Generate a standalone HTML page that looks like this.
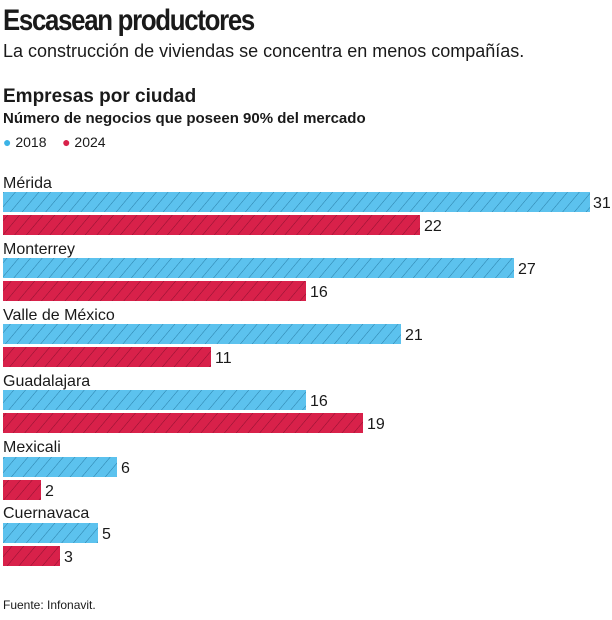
<!DOCTYPE html>
<html><head><meta charset="utf-8"><style>
body{margin:0;width:612px;height:620px;background:#fff;font-family:"Liberation Sans",sans-serif;color:#1a1a1a;position:relative;overflow:hidden}
.a{position:absolute;white-space:nowrap}
</style></head><body>
<div class="a" style="left:3px;top:4px;font-size:30px;font-weight:bold;letter-spacing:-1.5px;transform:scaleX(0.86);transform-origin:left">Escasean productores</div>
<div class="a" style="left:3px;top:41px;font-size:18px">La construcción de viviendas se concentra en menos compañías.</div>
<div class="a" style="left:3px;top:86px;font-size:19px;font-weight:bold">Empresas por ciudad</div>
<div class="a" style="left:3px;top:110px;font-size:15px;font-weight:bold">Número de negocios que poseen 90% del mercado</div>
<div class="a" style="left:3px;top:134px;font-size:14px"><span style="color:#3bb3e6">●</span> 2018 &nbsp;&nbsp;&nbsp;<span style="color:#d8214a">●</span> 2024</div>
<svg class="a" style="left:0;top:0" width="612" height="620">
<defs>
<pattern id="hb" width="9" height="9" patternUnits="userSpaceOnUse" patternTransform="rotate(40)"><rect width="9" height="9" fill="#5cc2ee"/><line x1="0" y1="0" x2="0" y2="9" stroke="#2a7fa8" stroke-width="1"/></pattern>
<pattern id="hr" width="9" height="9" patternUnits="userSpaceOnUse" patternTransform="rotate(40)"><rect width="9" height="9" fill="#d8214a"/><line x1="0" y1="0" x2="0" y2="9" stroke="#8e1030" stroke-width="1"/></pattern>
</defs>
<g font-size="16" fill="#1a1a1a">
<text x="3" y="188">Mérida</text>
<text x="3" y="254">Monterrey</text>
<text x="3" y="320">Valle de México</text>
<text x="3" y="386">Guadalajara</text>
<text x="3" y="452">Mexicali</text>
<text x="3" y="518">Cuernavaca</text>
</g>
<g>
<rect x="3" y="192" width="587" height="20" fill="url(#hb)"/>
<rect x="3" y="215" width="417" height="20" fill="url(#hr)"/>
<rect x="3" y="258" width="511" height="20" fill="url(#hb)"/>
<rect x="3" y="281" width="303" height="20" fill="url(#hr)"/>
<rect x="3" y="324" width="398" height="20" fill="url(#hb)"/>
<rect x="3" y="347" width="208" height="20" fill="url(#hr)"/>
<rect x="3" y="390" width="303" height="20" fill="url(#hb)"/>
<rect x="3" y="413" width="360" height="20" fill="url(#hr)"/>
<rect x="3" y="457" width="114" height="20" fill="url(#hb)"/>
<rect x="3" y="480" width="38" height="20" fill="url(#hr)"/>
<rect x="3" y="523" width="95" height="20" fill="url(#hb)"/>
<rect x="3" y="546" width="57" height="20" fill="url(#hr)"/>
</g>
<g font-size="16" fill="#1a1a1a">
<text x="593" y="208">31</text>
<text x="424" y="231">22</text>
<text x="518" y="274">27</text>
<text x="310" y="297">16</text>
<text x="405" y="340">21</text>
<text x="215" y="363">11</text>
<text x="310" y="406">16</text>
<text x="367" y="429">19</text>
<text x="121" y="473">6</text>
<text x="45" y="496">2</text>
<text x="102" y="539">5</text>
<text x="64" y="562">3</text>
</g>
</svg>
<div class="a" style="left:3px;top:598px;font-size:12px">Fuente: Infonavit.</div>
</body></html>
